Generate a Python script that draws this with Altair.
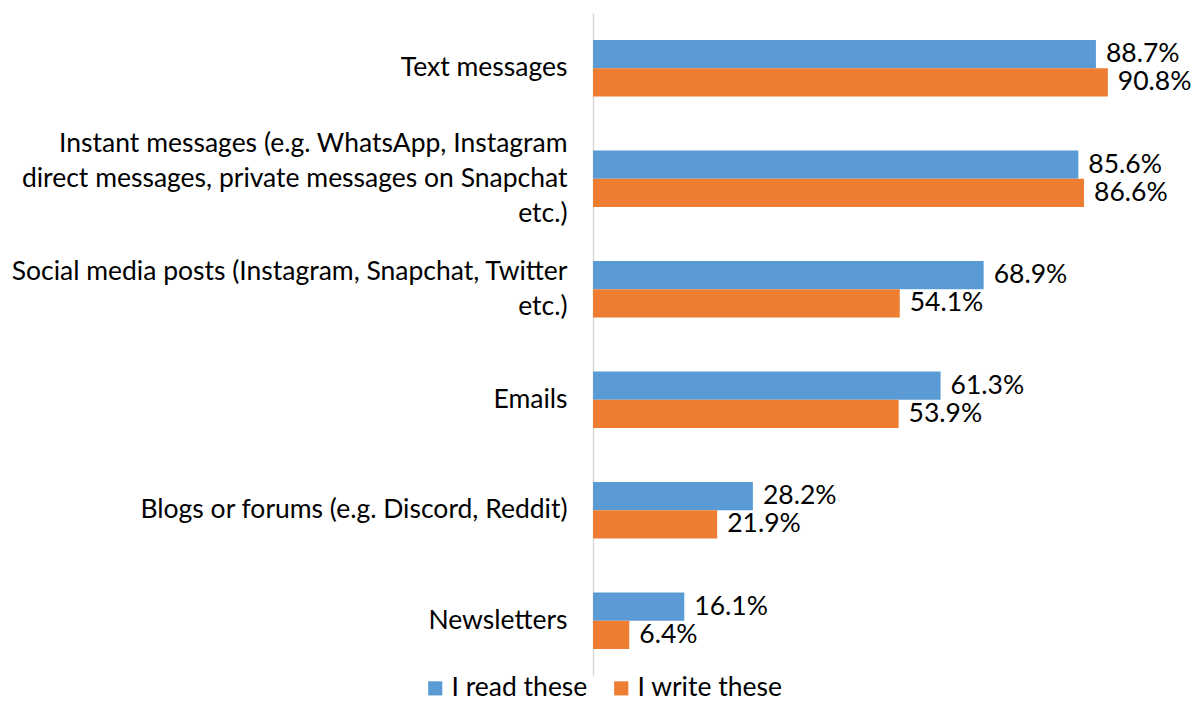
import altair as alt
import pandas as pd

categories = [
    "Text messages",
    "Instant messages (e.g. WhatsApp, Instagram|direct messages, private messages on Snapchat|etc.)",
    "Social media posts (Instagram, Snapchat, Twitter|etc.)",
    "Emails",
    "Blogs or forums (e.g. Discord, Reddit)",
    "Newsletters",
]
series = ["I read these", "I write these"]
read_vals = [88.7, 85.6, 68.9, 61.3, 28.2, 16.1]
write_vals = [90.8, 86.6, 54.1, 53.9, 21.9, 6.4]
colors = ["#5B9BD5", "#ED7D31"]

rows = []
for c, r, w in zip(categories, read_vals, write_vals):
    rows.append({"category": c, "series": series[0], "value": r, "label": f"{r:.1f}%"})
    rows.append({"category": c, "series": series[1], "value": w, "label": f"{w:.1f}%"})
df = pd.DataFrame(rows)

FONT = "Lato"
FS = 26.5
LH = 35

y_enc = alt.Y(
    "category:N",
    sort=categories,
    scale=alt.Scale(paddingInner=0.49, paddingOuter=0.245),
    axis=alt.Axis(
        title=None,
        labelExpr="split(datum.label, '|')",
        labelFont=FONT,
        labelFontSize=FS,
        labelColor="#000000",
        labelPadding=26,
        labelLimit=800,
        labelLineHeight=LH,
        labelOffset={
            "condition": [
                {"test": "indexof(datum.value, 'Instant') == 0", "value": -LH},
                {"test": "indexof(datum.value, 'Social') == 0", "value": -LH / 2},
            ],
            "value": 0,
        },
        ticks=False,
        domain=True,
        domainColor="#D9D9D9",
        domainWidth=1.5,
        grid=False,
    ),
)
x_enc = alt.X("value:Q", scale=alt.Scale(domain=[0, 100]), axis=None)
yoff = alt.YOffset("series:N", sort=series, scale=alt.Scale(domain=series))

bars = alt.Chart(df).mark_bar().encode(
    x=x_enc,
    y=y_enc,
    yOffset=yoff,
    color=alt.Color(
        "series:N",
        scale=alt.Scale(domain=series, range=colors),
        legend=alt.Legend(
            title=None,
            orient="none",
            direction="horizontal",
            legendX=-171,
            legendY=662,
            symbolType="square",
            symbolSize=200,
            symbolStrokeWidth=0,
            labelFont=FONT,
            labelFontSize=FS,
            labelColor="#000000",
            labelOffset=3,
            columnPadding=20,
            labelLimit=400,
        ),
    ),
)

texts = alt.Chart(df).mark_text(
    align="left", baseline="middle", dx=10, font=FONT, fontSize=FS, color="#000000"
).encode(x=x_enc, y=alt.Y("category:N", sort=categories), yOffset=yoff, text="label:N")

chart = (
    alt.layer(bars, texts)
    .properties(
        width=567,
        height=663,
        autosize=alt.AutoSizeParams(type="none"),
        padding={"left": 585, "top": 5, "right": 35, "bottom": 27},
    )
    .configure(background="white", view=alt.ViewConfig(stroke="transparent", strokeWidth=0))
)

chart.save("out.html", embed_options={"renderer": "svg", "actions": False})
